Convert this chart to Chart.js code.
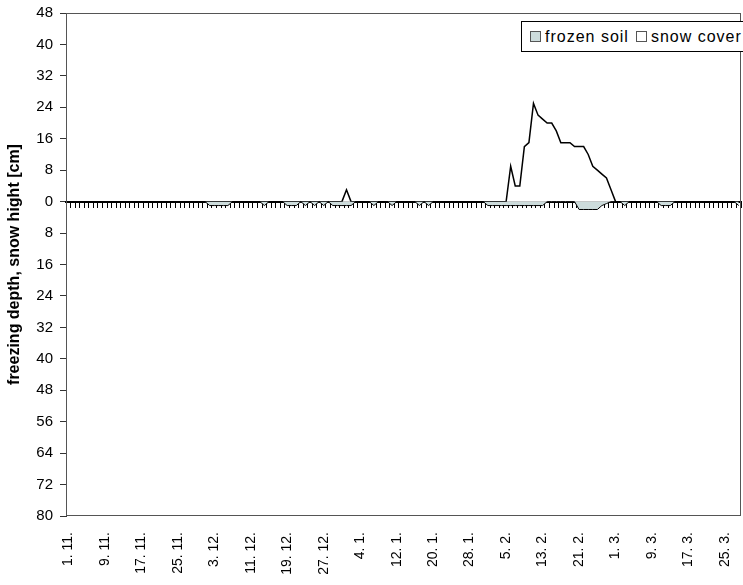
<!DOCTYPE html>
<html>
<head>
<meta charset="utf-8">
<script src="https://cdn.jsdelivr.net/npm/chart.js@4.4.1/dist/chart.umd.min.js"></script>
<style>
	body { margin: 0; overflow: hidden; background: #fff; }
	#wrap { position: relative; width: 743px; height: 585px; }
	#legend {
		position: absolute; left: 521px; top: 21px; width: 240px; height: 31px;
		border: 1px solid #000; background: #fff;
		display: flex; align-items: center; padding-left: 8px; box-sizing: border-box;
		font: 16px "Liberation Sans", Arial, sans-serif; letter-spacing: 1px; color: #000;
	}
	#legend .box { width: 9px; height: 9px; border: 1px solid #555; margin-right: 4px; }
	#legend .item { display: flex; align-items: center; margin-right: 7px; white-space: nowrap; }
</style>
</head>
<body>
<div id="wrap">
	<canvas id="chart" width="743" height="585"></canvas>
	<div id="legend"></div>
</div>
<script>
// season 1.11. - 28.3., one value per day
var months = [[11, 30], [12, 31], [1, 31], [2, 28], [3, 28]];
var labelEvery = 8;

// freezing depth [cm], drawn below zero
var frozenSoil = [
	0, 0, 0, 0, 0, 0, 0, 0, 0, 0,
	0, 0, 0, 0, 0, 0, 0, 0, 0, 0,
	0, 0, 0, 0, 0, 0, 0, 0, 0, 0,
	0, -1, -1, -1, -1, -1, 0, 0, 0, 0,
	0, 0, 0, -1, 0, 0, 0, 0, -1, -1,
	-1, 0, -1, 0, -1, 0, -1, 0, -1, -1,
	-1, -1, -1, 0, 0, 0, 0, -1, 0, 0,
	0, -1, 0, 0, 0, 0, 0, -1, 0, -1,
	0, 0, 0, 0, 0, 0, 0, 0, 0, 0,
	0, 0, -1, -1, -1, -1, -1, -1, -1, -1,
	-1, -1, -1, -1, -1, 0, 0, 0, 0, 0,
	0, 0, -2, -2, -2, -2, -2, -1, -0.5, 0,
	0, 0, -1, 0, 0, 0, 0, 0, 0, 0,
	-1, -1, -1, 0, 0, 0, 0, 0, 0, 0,
	0, 0, 0, 0, 0, 0, 0, -1
];

// snow height [cm]
var snowCover = [
	0, 0, 0, 0, 0, 0, 0, 0, 0, 0,
	0, 0, 0, 0, 0, 0, 0, 0, 0, 0,
	0, 0, 0, 0, 0, 0, 0, 0, 0, 0,
	0, 0, 0, 0, 0, 0, 0, 0, 0, 0,
	0, 0, 0, 0, 0, 0, 0, 0, 0, 0,
	0, 0, 0, 0, 0, 0, 0, 0, 0, 0,
	0, 3, 0, 0, 0, 0, 0, 0, 0, 0,
	0, 0, 0, 0, 0, 0, 0, 0, 0, 0,
	0, 0, 0, 0, 0, 0, 0, 0, 0, 0,
	0, 0, 0, 0, 0, 0, 0, 9, 4, 4,
	14, 15, 25, 22, 21, 20, 20, 18, 15, 15,
	15, 14, 14, 14, 12, 9, 8, 7, 6, 3,
	0, 0, 0, 0, 0, 0, 0, 0, 0, 0,
	0, 0, 0, 0, 0, 0, 0, 0, 0, 0,
	0, 0, 0, 0, 0, 0, 0, 0
];

var days = [];
for (var m = 0; m < months.length; m++) {
	for (var d = 1; d <= months[m][1]; d++) {
		days.push(d + ". " + months[m][0] + ".");
	}
}

var font = "'Liberation Sans', Arial, sans-serif";

// no extra room around the plot for the labels
function noPadding(s) {
	s.paddingLeft = 0;
	s.paddingRight = 0;
	s.paddingTop = 0;
	s.paddingBottom = 0;
}

var plotFrame = {
	id: 'plotFrame',
	beforeDatasetsDraw: function(chart) {
		var a = chart.chartArea;
		var c = chart.ctx;
		c.save();
		c.strokeStyle = '#555';
		c.lineWidth = 1;
		c.strokeRect(a.left + 0.5, a.top + 0.5, a.right - a.left - 1, a.bottom - a.top - 1);
		c.restore();
	}
};

var chart = new Chart(document.getElementById('chart'), {
	type : 'line',
	data : {
		labels : days,
		datasets : [ {
			label : 'frozen soil',
			data : frozenSoil,
			fill : 'origin',
			backgroundColor : '#cddcdc',
			borderColor : '#000',
			borderWidth : 1,
			pointRadius : 0,
			lineTension : 0
		}, {
			label : 'snow cover',
			data : snowCover,
			fill : 'origin',
			backgroundColor : '#fff',
			borderColor : '#000',
			borderWidth : 1.5,
			pointRadius : 0,
			lineTension : 0
		} ]
	},
	options : {
		responsive : false,
		animation : false,
		layout : { padding : { top : 13, right : 2, bottom : 0, left : 0 } },
		plugins : {
			legend : { display : false },
			tooltip : { enabled : false }
		},
		scales : {
			x : {
				type : 'category',
				offset : true,
				grid : { display : false, drawTicks : false },
				border : { display : false },
				ticks : {
					autoSkip : false,
					minRotation : 90,
					maxRotation : 90,
					padding : 16,
					color : '#000',
					font : { family : font, size : 14 },
					callback : function(v, i) {
						return i % labelEvery === 0 ? days[i] : '';
					}
				},
				afterFit : function(s) { s.height = 69; noPadding(s); }
			},
			x0 : {
				axis : 'x',
				type : 'category',
				position : { y : 0 },
				offset : true,
				z : 1,
				grid : {
					drawOnChartArea : false,
					drawTicks : true,
					tickLength : 5,
					color : '#000',
					lineWidth : 1,
					offset : true
				},
				border : { color : '#000', width : 2 },
				ticks : { display : false, autoSkip : false },
				afterFit : function(s) { s.height = 0; noPadding(s); }
			},
			y : {
				min : -80,
				max : 48,
				ticks : {
					stepSize : 8,
					padding : 7,
					color : '#000',
					font : { family : font, size : 15 },
					callback : function(v) { return Math.abs(v); }
				},
				grid : { drawOnChartArea : false, tickLength : 6, color : '#333' },
				border : { color : '#333' },
				title : {
					display : true,
					text : 'freezing depth, snow hight [cm]',
					color : '#000',
					font : { family : font, size : 16, weight : 'bold' },
					padding : { top : 5, bottom : 0 }
				},
				afterFit : function(s) { s.width = 66; noPadding(s); }
			}
		}
	},
	plugins : [ plotFrame ]
});

// legend box inside the plot, built from the datasets
var legend = document.getElementById('legend');
chart.data.datasets.forEach(function(ds) {
	var item = document.createElement('div');
	item.className = 'item';
	var box = document.createElement('div');
	box.className = 'box';
	box.style.background = ds.backgroundColor;
	var txt = document.createElement('span');
	txt.textContent = ds.label;
	item.appendChild(box);
	item.appendChild(txt);
	legend.appendChild(item);
});
</script>
</body>
</html>
